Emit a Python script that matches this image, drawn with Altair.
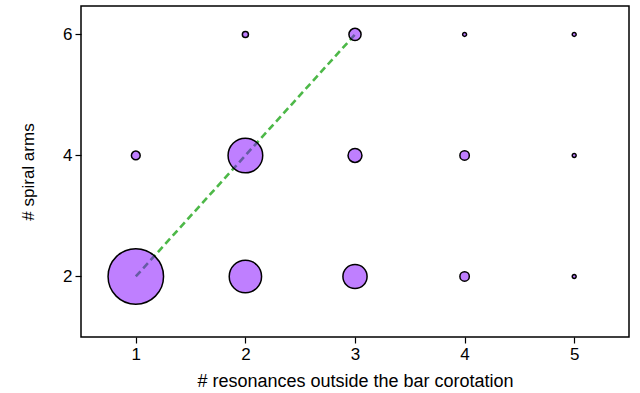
import altair as alt
import pandas as pd

# resonances outside bar corotation, spiral arms, relative weight (%)
n_res = [1, 1, 2, 2, 2, 3, 3, 3, 4, 4, 4, 5, 5, 5]
n_arms = [2, 4, 2, 4, 6, 2, 4, 6, 2, 4, 6, 2, 4, 6]
weight = [100, 2.5, 34, 39, 1.2, 19, 6.3, 4.8, 2.9, 2.9, 0.5, 0.5, 0.5, 0.5]

line_x = [1, 3]
line_y = [2, 6]

df = pd.DataFrame({"res": n_res, "arms": n_arms, "w": weight})
ldf = pd.DataFrame({"res": line_x, "arms": line_y})

FONT = "Liberation Sans"

xs = alt.Scale(domain=[0.5, 5.5], nice=False, zero=False)
ys = alt.Scale(domain=[1, 6.47], nice=False, zero=False)

xax = alt.Axis(values=[1, 2, 3, 4, 5], format="d", grid=False, domain=False,
               tickColor="black", tickSize=6, tickWidth=1.2,
               labelFont=FONT, labelFontSize=17, labelColor="black", labelPadding=3,
               titleFont=FONT, titleFontSize=18, titleFontWeight="normal",
               titleColor="black", titlePadding=10)
yax = alt.Axis(values=[2, 4, 6], format="d", grid=False, domain=False,
               tickColor="black", tickSize=6, tickWidth=1.2,
               labelFont=FONT, labelFontSize=17, labelColor="black", labelPadding=3,
               titleFont=FONT, titleFontSize=17, titleFontWeight="normal",
               titleColor="black", titlePadding=25)

line = alt.Chart(ldf).mark_line(color="#4DB848", strokeWidth=2.6,
                                strokeDash=[7, 4]).encode(
    x=alt.X("res:Q", scale=xs, axis=xax, title="# resonances outside the bar corotation"),
    y=alt.Y("arms:Q", scale=ys, axis=yax, title="# spiral arms"),
)

pts = alt.Chart(df).mark_circle(fill="#7F00FF", fillOpacity=0.5, stroke="black",
                                strokeWidth=1.5, opacity=1).encode(
    x=alt.X("res:Q", scale=xs),
    y=alt.Y("arms:Q", scale=ys),
    size=alt.Size("w:Q", scale=alt.Scale(type="linear", domain=[0, 100],
                                         range=[0, 3078], zero=True), legend=None),
)

chart = (line + pts).properties(
    width=548, height=331,
    autosize=alt.AutoSizeParams(type="none"),
    padding={"left": 81, "top": 6, "right": 11, "bottom": 56},
    background="white",
).configure_view(stroke="black", strokeWidth=1.5)

chart.save("out.html", embed_options={"renderer": "svg", "actions": False})
